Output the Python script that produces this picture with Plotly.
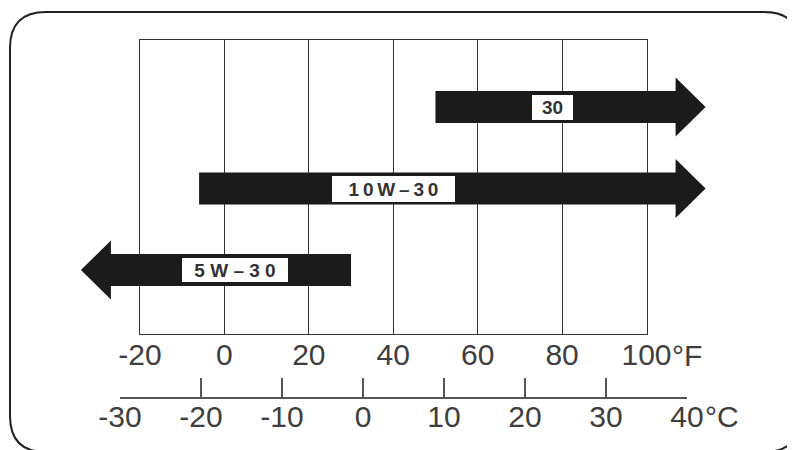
import plotly.graph_objects as go

# ---------------- data ----------------
f_ticks = [-20, 0, 20, 40, 60, 80, 100]
f_labels = ["-20", "0", "20", "40", "60", "80", "100"]
c_ticks = [-30, -20, -10, 0, 10, 20, 30, 40]
c_labels = ["-30", "-20", "-10", "0", "10", "20", "30", "40"]

grades = ["30", "10W-30", "5W-30"]
grade_text = ["30", "1\u20090\u2009W\u2009\u2013\u20093\u20090", "5 W \u2013 3 0"]
span_start = [50, -6, 30]     # flat end of each bar, °F
span_tip = [114, 114, -34]    # arrow tip, °F

# ---------------- style / layout ----------------
W, H = 795, 450
OX, OY = 8, 8                         # page (body) offset of the figure
PXF = (646.5 - 140) / 120.0          # pixels per °F
ROW_PX = 81.5                         # pixels per row
ROW0_PX = 107.0
head_len = 30 / PXF                   # °F
bar_half = 16 / ROW_PX
head_half = 29.5 / ROW_PX
label_x = [77.7, 40.0, 2.5]           # °F, label box centres
label_w = [41, 123, 106]
label_h = [25, 26, 24]

ink = "#1b1b1b"
grid = "#333333"
txt = "#3e3e3e"
font_fam = "Liberation Sans, Arial, Helvetica, sans-serif"
FS = 30


def fx(px):
    return (px - OX) / W


def fy(py):
    return 1 - (py - OY) / H


fig = go.Figure()

# placeholders so every subplot exists
fig.add_trace(go.Scatter(x=[None], y=[None], xaxis="x", yaxis="y", showlegend=False, hoverinfo="skip"))
fig.add_trace(go.Scatter(x=[None], y=[None], xaxis="x2", yaxis="y2", showlegend=False, hoverinfo="skip"))

# arrows
for i, g in enumerate(grades):
    s, t = span_start[i], span_tip[i]
    d = 1 if t > s else -1
    hb = t - d * head_len
    r = i
    xs = [s, hb, hb, t, hb, hb, s, s]
    ys = [r - bar_half, r - bar_half, r - head_half, r, r + head_half, r + bar_half, r + bar_half, r - bar_half]
    fig.add_trace(go.Scatter(x=xs, y=ys, xaxis="x3", yaxis="y3", mode="lines",
                             fill="toself", fillcolor=ink, line=dict(color=ink, width=0),
                             showlegend=False, hoverinfo="skip", name=g))

annotations = []
for i, g in enumerate(grades):
    annotations.append(dict(
        xref="x3", yref="y3", x=label_x[i], y=i, text=grade_text[i], showarrow=False,
        bgcolor="white", width=label_w[i], height=label_h[i], borderpad=0, borderwidth=0,
        align="center", valign="middle",
        font=dict(family=font_fam, size=19, color="#333333", weight="bold")))

# unit suffixes
annotations.append(dict(xref="x", yref="paper", x=100, y=fy(355), xanchor="left", yanchor="middle",
                        xshift=23, text="°F", showarrow=False,
                        font=dict(family=font_fam, size=FS, color=txt)))
annotations.append(dict(xref="x2", yref="paper", x=40, y=fy(416), xanchor="left", yanchor="middle",
                        xshift=16, text="°C", showarrow=False,
                        font=dict(family=font_fam, size=FS, color=txt)))

# rounded outer frame
L, T, R, B, rad = 10, 12, 800, 452, 36


def P(px, py):
    return f"{fx(px):.5f},{fy(py):.5f}"


path = (f"M {P(L + rad, T)} L {P(R - rad, T)} Q {P(R, T)} {P(R, T + rad)} "
        f"L {P(R, B - rad)} Q {P(R, B)} {P(R - rad, B)} L {P(L + rad, B)} "
        f"Q {P(L, B)} {P(L, B - rad)} L {P(L, T + rad)} Q {P(L, T)} {P(L + rad, T)} Z")

fig.update_layout(
    template="none",
    width=W, height=H, margin=dict(l=0, r=0, t=0, b=0, pad=0), autosize=False,
    paper_bgcolor="white", plot_bgcolor="rgba(0,0,0,0)",
    showlegend=False,
    font=dict(family=font_fam, color=txt),
    xaxis=dict(domain=[fx(140), fx(646.5)], range=[-20, 100], anchor="y", automargin=False,
               tickmode="array", tickvals=f_ticks, ticktext=f_labels,
               showgrid=True, gridcolor=grid, gridwidth=1.3,
               showline=True, mirror=True, linecolor=grid, linewidth=1.3,
               zeroline=False, ticks="", ticklabelstandoff=-6,
               tickfont=dict(family=font_fam, size=FS, color=txt), fixedrange=True),
    yaxis=dict(domain=[fy(334), fy(40)], range=[0, 1], anchor="x", automargin=False,
               showgrid=False, zeroline=False, showticklabels=False, ticks="",
               showline=True, mirror=True, linecolor=grid, linewidth=1.3, fixedrange=True),
    xaxis2=dict(domain=[fx(120), fx(687)], range=[-30, 40], anchor="y2", automargin=False,
                tickmode="array", tickvals=c_ticks, ticktext=c_labels,
                showgrid=False, zeroline=False, showline=True, linecolor="#555555", linewidth=1.5,
                ticks="inside", ticklen=19, tickwidth=1.5, tickcolor="#555555",
                ticklabelstandoff=-8,
                tickfont=dict(family=font_fam, size=FS, color=txt), fixedrange=True),
    yaxis2=dict(domain=[fy(397), fy(370)], range=[0, 1], anchor="x2", visible=False,
                automargin=False, fixedrange=True),
    xaxis3=dict(domain=[0, 1], range=[-20 - (140 - OX) / PXF, -20 + (W + OX - 140) / PXF], anchor="y3",
                visible=False, automargin=False, fixedrange=True),
    yaxis3=dict(domain=[0, 1], range=[(H + OY - ROW0_PX) / ROW_PX, -(ROW0_PX - OY) / ROW_PX], anchor="x3",
                visible=False, automargin=False, fixedrange=True),
    annotations=annotations,
    shapes=[dict(type="path", xref="paper", yref="paper", path=path,
                 line=dict(color="#222222", width=2), fillcolor="rgba(0,0,0,0)")],
)

fig.write_html("out.html")
